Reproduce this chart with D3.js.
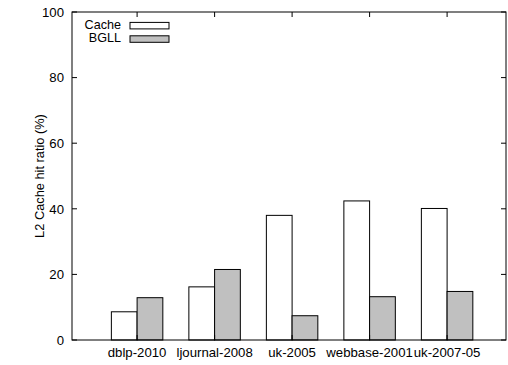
<!DOCTYPE html>
<html>
<head>
<meta charset="utf-8">
<script src="https://cdn.jsdelivr.net/npm/d3@7"></script>
<style>
  html,body{margin:0;padding:0;background:#fff;}
  svg{display:block;font-family:"Liberation Sans",Arial,sans-serif;}
</style>
</head>
<body>
<div id="chart"></div>
<script>
const categories=['dblp-2010','ljournal-2008','uk-2005','webbase-2001','uk-2007-05'];
const seriesNames=['Cache','BGLL'];
const cacheVals=[8.6,16.2,38.0,42.4,40.1];
const bgllVals=[12.9,21.5,7.4,13.2,14.8];
const yTicks=[0,20,40,60,80,100];

const W=508,H=365,m={t:12,r:2,b:25,l:72};
const w=W-m.l-m.r,h=H-m.t-m.b;
const fs=13.2;
const fills={Cache:'#ffffff',BGLL:'#c0c0c0'};
const svg=d3.select('#chart').append('svg').attr('width',W).attr('height',H);
const g=svg.append('g').attr('transform',`translate(${m.l},${m.t})`);

// gnuplot-like x range: index -0.84 .. 4.76
const x=d3.scaleLinear().domain([-0.84,4.76]).range([0,w]);
const y=d3.scaleLinear().domain([0,100]).range([h,0]);
const step=x(1)-x(0),bw=step*0.332;

const rows=categories.map((c,i)=>({c,i,Cache:cacheVals[i],BGLL:bgllVals[i]}));
seriesNames.forEach((s,si)=>{
  g.selectAll('.b'+si).data(rows).join('rect')
    .attr('x',d=>x(d.i)+(si-1)*bw).attr('width',bw)
    .attr('y',d=>y(d[s])).attr('height',d=>h-y(d[s]))
    .attr('fill',fills[s]).attr('stroke','#000').attr('stroke-width',1);
});

// frame
g.append('rect').attr('x',0).attr('y',0).attr('width',w).attr('height',h)
  .attr('fill','none').attr('stroke','#000').attr('stroke-width',1);

// y ticks (left + mirrored right)
yTicks.forEach(t=>{
  g.append('line').attr('x1',0).attr('x2',5).attr('y1',y(t)).attr('y2',y(t)).attr('stroke','#000');
  g.append('line').attr('x1',w).attr('x2',w-5).attr('y1',y(t)).attr('y2',y(t)).attr('stroke','#000');
  g.append('text').attr('x',-8).attr('y',y(t)+4.8).attr('text-anchor','end')
    .attr('font-size',fs).attr('fill','#000').text(t);
});
// x ticks (bottom + mirrored top)
categories.forEach((c,i)=>{
  g.append('line').attr('x1',x(i)).attr('x2',x(i)).attr('y1',h).attr('y2',h-5).attr('stroke','#000');
  g.append('line').attr('x1',x(i)).attr('x2',x(i)).attr('y1',0).attr('y2',5).attr('stroke','#000');
  g.append('text').attr('x',x(i)).attr('y',h+17).attr('text-anchor','middle')
    .attr('font-size',fs).attr('fill','#000').text(c);
});

// y label
svg.append('text').attr('transform',`translate(44,${m.t+h/2}) rotate(-90)`)
  .attr('text-anchor','middle').attr('font-size',12.8).attr('fill','#000').text('L2 Cache hit ratio (%)');

// legend
const leg=svg.append('g');
seriesNames.forEach((s,i)=>{
  const yy=22.4+i*13.4;
  leg.append('text').attr('x',121).attr('y',yy+6.3).attr('text-anchor','end')
    .attr('font-size',12.6).attr('fill','#000').text(s);
  leg.append('rect').attr('x',130).attr('y',yy).attr('width',39).attr('height',6.5)
    .attr('fill',fills[s]).attr('stroke','#000').attr('stroke-width',1);
});
</script>
</body>
</html>
